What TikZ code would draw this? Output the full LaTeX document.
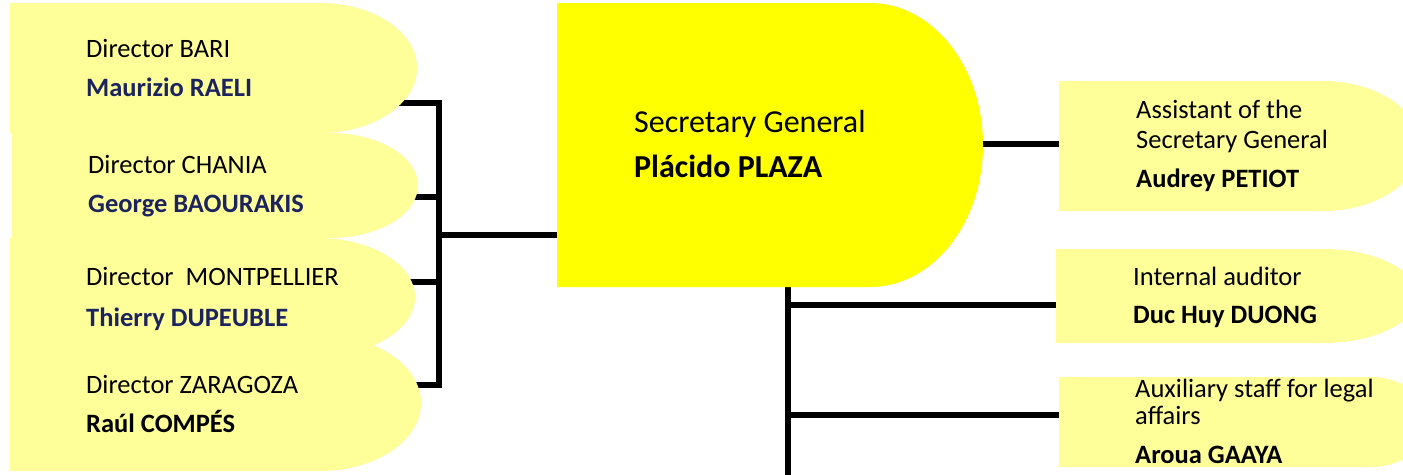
\documentclass[tikz,border=0pt]{standalone}
\usepackage{fontspec}
\setmainfont{Carlito}
\definecolor{lightbox}{HTML}{FFFF99}
\definecolor{mainbox}{HTML}{FFFF00}
\definecolor{navy}{HTML}{1C2460}
\tikzset{
  lbox/.style={fill=lightbox},
  mbox/.style={fill=mainbox},
  conn/.style={draw=black, line width=6pt},
  small/.style={anchor=base west, inner sep=0pt, font=\fontsize{26.5}{31}\selectfont},
  smallb/.style={small, font=\fontsize{26.5}{31}\selectfont\bfseries},
  big/.style={anchor=base west, inner sep=0pt, font=\fontsize{32}{38}\selectfont},
  bigb/.style={big, font=\fontsize{32}{38}\selectfont\bfseries}
}
\begin{document}
\begin{tikzpicture}[x=1pt,y=-1pt]
\clip (0,0) rectangle (1403,474);
\fill[white] (0,0) rectangle (1403,474);

% connector anchor coordinates
\coordinate (b1) at (390,103);
\coordinate (b2) at (405,197);
\coordinate (b3) at (400,282);
\coordinate (b4) at (405,385);
\coordinate (lbTop) at (439,103);
\coordinate (lbBot) at (439,385);
\coordinate (lbMid) at (439,235);
\coordinate (sgL) at (570,235);
\coordinate (sgR) at (975,144);
\coordinate (asL) at (1070,144);
\coordinate (sgB) at (788,280);
\coordinate (trEnd) at (788,480);
\coordinate (iaL) at (1066,305);
\coordinate (axL) at (1069,415);

% connectors (behind boxes)
\draw[conn] (b1) -- (lbTop) -- (lbBot) -- (b4);
\draw[conn] (b2) -- (b2 -| lbTop);
\draw[conn] (b3) -- (b3 -| lbTop);
\draw[conn] (lbMid) -- (sgL);
\draw[conn] (sgR) -- (asL);
\draw[conn] (sgB) -- (trEnd);
\draw[conn] (iaL -| sgB) -- (iaL);
\draw[conn] (axL -| sgB) -- (axL);

% left boxes
\fill[lbox] (10,3) -- (320,3) arc[start angle=90,end angle=-90,x radius=97pt,y radius=65pt] -- (10,133) -- cycle;
\fill[lbox] (12,133) -- (330,133) arc[start angle=90,end angle=-90,x radius=88pt,y radius=52.5pt] -- (12,238) -- cycle;
\fill[lbox] (10,335) -- (320,335) arc[start angle=90,end angle=-90,x radius=101pt,y radius=68pt] -- (10,471) -- cycle;
\fill[lbox] (10,238) -- (317,238) arc[start angle=90,end angle=-90,x radius=98pt,y radius=59pt] -- (10,356) -- cycle;

% central box
\fill[mbox] (557,3) -- (870,3) arc[start angle=90,end angle=-90,x radius=113pt,y radius=142pt] -- (557,287) -- cycle;

% right boxes
\fill[lbox] (1059,81) -- (1323,81) arc[start angle=90,end angle=-90,x radius=97pt,y radius=65pt] -- (1059,211) -- cycle;
\fill[lbox] (1056,249) -- (1323,249) arc[start angle=90,end angle=-90,x radius=94pt,y radius=47pt] -- (1056,343) -- cycle;
\fill[lbox] (1059,377) -- (1370,377) arc[start angle=90,end angle=-90,x radius=60pt,y radius=45pt] -- (1059,467) -- cycle;

% texts left
\node[small] (t1a) at (86,57) {Director BARI};
\node[smallb, text=navy] (t1b) at (86,96) {Maurizio RAELI};
\node[small] (t2a) at (88,173) {Director CHANIA};
\node[smallb, text=navy] (t2b) at (88,212) {George BAOURAKIS};
\node[small] (t3a) at (86,285) {Director\ \ MONTPELLIER};
\node[smallb, text=navy] (t3b) at (86,326) {Thierry DUPEUBLE};
\node[small] (t4a) at (86,393) {Director ZARAGOZA};
\node[smallb] (t4b) at (86,432) {Raúl COMPÉS};

% central text
\node[big] (sga) at (634,132) {Secretary General};
\node[bigb] (sgb) at (634,177) {Plácido PLAZA};

% right texts
\node[small] (r1a) at (1136,118) {Assistant of the};
\node[small] (r1b) at (1136,148) {Secretary General};
\node[smallb] (r1c) at (1136,187) {Audrey PETIOT};
\node[small] (r2a) at (1133,285) {Internal auditor};
\node[smallb] (r2b) at (1133,323) {Duc Huy DUONG};
\node[small] (r3a) at (1135,397) {Auxiliary staff for legal};
\node[small] (r3b) at (1135,424) {affairs};
\node[smallb] (r3c) at (1135,463) {Aroua GAAYA};
\end{tikzpicture}
\end{document}
